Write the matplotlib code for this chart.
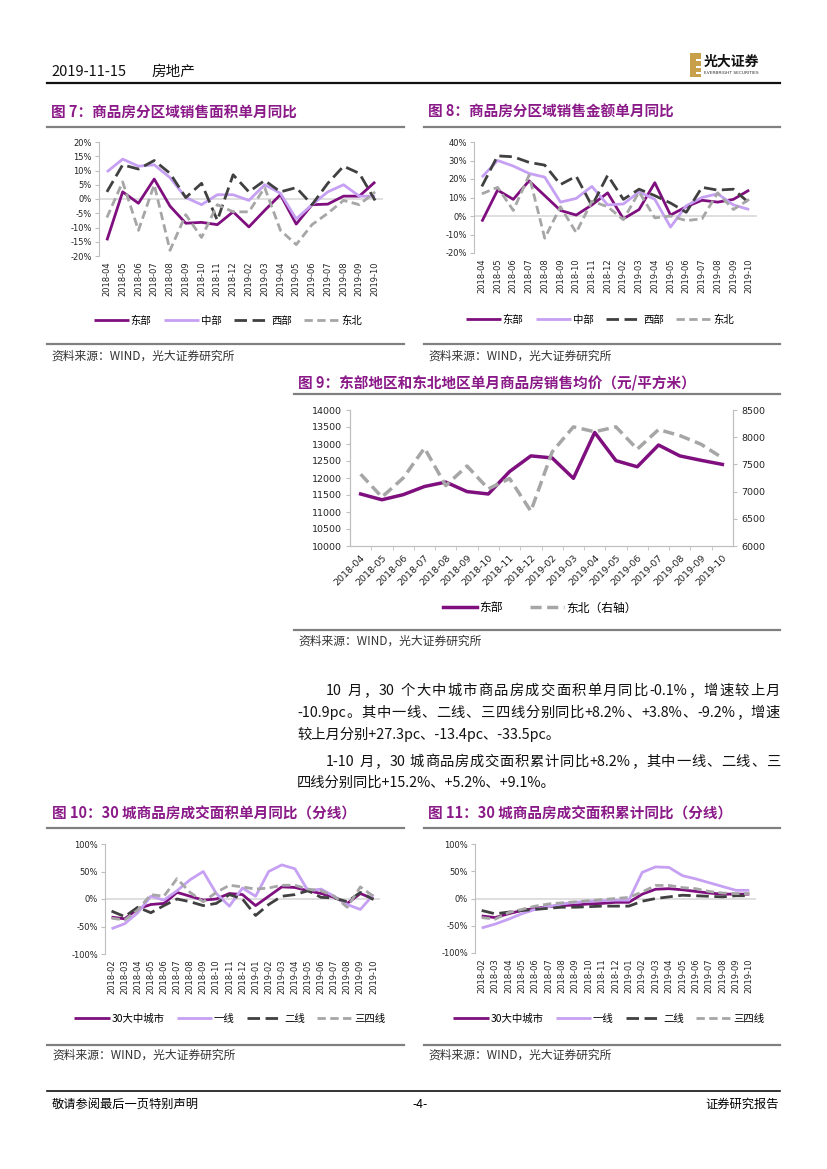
import re
import matplotlib
matplotlib.use("Agg")
import matplotlib.pyplot as plt
from matplotlib.patches import Rectangle
from matplotlib.lines import Line2D
from matplotlib.ticker import FuncFormatter, MultipleLocator, FixedLocator

plt.rcParams['font.family'] = ['DejaVu Sans', 'Noto Sans CJK SC']
CJK = ['Noto Sans CJK SC', 'DejaVu Sans']

W, H = 827, 1169

# ---- data ----
months_a = ['2018-04', '2018-05', '2018-06', '2018-07', '2018-08', '2018-09',
            '2018-10', '2018-11', '2018-12', '2019-02', '2019-03', '2019-04',
            '2019-05', '2019-06', '2019-07', '2019-08', '2019-09', '2019-10']

months_b = ['2018-02', '2018-03', '2018-04', '2018-05', '2018-06', '2018-07',
            '2018-08', '2018-09', '2018-10', '2018-11', '2018-12', '2019-01',
            '2019-02', '2019-03', '2019-04', '2019-05', '2019-06', '2019-07',
            '2019-08', '2019-09', '2019-10']

regions = ['东部', '中部', '西部', '东北']

# fig 7: area yoy (%)
area_east = [-14.5, 2.5, -1.5, 7, -2.5, -8.5, -8.2, -9, -4.5, -9.8, -4, 1.5, -8.8, -2, -1.8, 1, 1, 6]
area_central = [9.5, 14, 11.5, 12, 7.5, 0.5, -2, 1.5, 1.5, -0.5, 5, 2, -7, -2, 2.5, 5, 1, 1]
area_west = [2.5, 12, 10.5, 13.5, 9, 0.5, 5.5, -7.5, 8.5, 2.5, 6.5, 2.5, 4, -2, 5.5, 11.5, 9, -0.5]
area_ne = [-6.5, 6, -11, 5, -18, -5.5, -13.5, -2, -4.5, -4.5, 4, -11, -16, -9, -5, -0.5, -2, 2.5]

# fig 8: sales amount yoy (%)
amt_east = [-3, 14, 9, 19, 11, 3, 0.5, 6, 12.5, -1.5, 3.5, 18, 0.5, 5, 8.5, 7.5, 9, 14]
amt_central = [21, 30, 27, 23, 21, 7.5, 9.5, 16, 6, 6.5, 13, 9, -6, 5.5, 10, 12, 6, 3.5]
amt_west = [16, 32.5, 32, 29, 27.5, 17, 21.5, 5.5, 22, 9, 14.5, 11, 7, 2, 15.5, 14, 14.5, 7]
amt_ne = [12, 15.5, 3, 22, -12, 5, -9, 8, 5, -2, 13, -1, 0, -2.5, -1.5, 12.5, 3.5, 9]

# fig 9: average price (yuan / m2)
price_east = [11530, 11360, 11510, 11750, 11880, 11600, 11530, 12190, 12650, 12590,
              11990, 13340, 12510, 12330, 12970, 12650, 12520, 12400]
price_ne = [7320, 6900, 7250, 7800, 7110, 7470, 7050, 7240, 6640, 7730,
            8190, 8100, 8190, 7780, 8140, 8030, 7870, 7620]

tiers = ['30大中城市', '一线', '二线', '三四线']

# fig 10: 30 cities monthly yoy (%)
mon_all = [-33, -36, -18, -10, -8, 12, 5, -2, 0, 10, 8, -12, 5, 22, 21, 15, 10, 3, -8, 10, 0]
mon_t1 = [-54, -45, -25, 5, -2, 15, 35, 50, 10, -13, 20, 5, 50, 62, 55, 15, 18, 5, -10, -19, 8]
mon_t2 = [-22, -32, -15, -25, -12, 0, -5, -12, -8, 8, 0, -30, -10, 5, 8, 15, 3, 2, -5, 12, -1]
mon_t34 = [-35, -38, -20, 8, 5, 37, 12, -5, 12, 25, 22, 18, 20, 25, 25, 18, 15, 5, -15, 22, 5]

# fig 11: 30 cities cumulative yoy (%)
cum_all = [-32, -35, -28, -22, -18, -15, -13, -12, -10, -9, -7, -7, 8, 17, 18, 16, 13, 10, 8, 8, 8]
cum_t1 = [-54, -47, -38, -28, -20, -15, -10, -7, -5, -4, -3, -3, 48, 58, 57, 42, 36, 29, 22, 15, 15]
cum_t2 = [-22, -28, -25, -22, -20, -18, -16, -16, -15, -14, -14, -14, -5, 0, 3, 6, 5, 4, 3, 5, 5]
cum_t34 = [-35, -38, -26, -20, -14, -10, -8, -6, -4, -2, 0, 2, 12, 24, 24, 20, 18, 13, 10, 9, 9]

PURPLE = '#7F0F7E'
LAVENDER = '#C6A0F2'
DGRAY = '#404040'
LGRAY = '#A6A6A6'
TITLE = '#8B1A89'
AXGRAY = '#BFBFBF'

styles = [
    dict(color=PURPLE, lw=2.0),
    dict(color=LAVENDER, lw=2.0),
    dict(color=DGRAY, lw=2.0, dashes=(4.5, 2.0)),
    dict(color=LGRAY, lw=2.0, dashes=(3.0, 1.6)),
]


def fx(x):
    return x / W


def fy(y):
    return 1 - y / H


def add_ax(fig, left, top, right, bottom):
    return fig.add_axes([fx(left), fy(bottom), (right - left) / W, (bottom - top) / H])


def hline(fig, x0, x1, y, color='#808080', lw=1.6):
    fig.add_artist(Line2D([fx(x0), fx(x1)], [fy(y), fy(y)], color=color, lw=lw))


def block_frame(fig, x0, x1, title, title_y, line_y, bottom_y, source_y, tx):
    fig.text(fx(tx), fy(title_y), title, family=CJK, fontsize=10.5, fontweight='bold',
             color=TITLE, va='center', ha='left')
    hline(fig, x0, x1, line_y)
    hline(fig, x0, x1, bottom_y)
    fig.text(fx(tx), fy(source_y), '资料来源：WIND，光大证券研究所', family=CJK,
             fontsize=8.5, color='#333333', va='center', ha='left')


def yoy_chart(fig, box, labels, series, names, ylim, step, leg_xy, tick_fs=6, leg_fs=7.5,
              pct_fmt='{:.0f}%'):
    ax = add_ax(fig, *box)
    x = list(range(len(labels)))
    for vals, st, nm in zip(series, styles, names):
        ax.plot(x, vals, label=nm, solid_capstyle='butt', dash_capstyle='butt', **st)
    ax.set_xlim(-0.5, len(labels) - 0.5)
    ax.set_ylim(*ylim)
    ax.axhline(0, color='#D9D9D9', lw=1.2, zorder=0)
    for s in ['top', 'right', 'bottom']:
        ax.spines[s].set_visible(False)
    ax.spines['left'].set_color(AXGRAY)
    ax.yaxis.set_major_locator(MultipleLocator(step))
    ax.yaxis.set_major_formatter(FuncFormatter(lambda v, p: pct_fmt.format(v)))
    ax.tick_params(axis='y', labelsize=tick_fs, length=3, color=AXGRAY, pad=2, labelcolor='#222222')
    ax.set_xticks(x)
    ax.set_xticklabels(labels, rotation=90, fontsize=tick_fs, color='#222222')
    ax.tick_params(axis='x', length=0, pad=4)
    ax.patch.set_alpha(0)
    ax.legend(loc='center', bbox_to_anchor=(fx(leg_xy[0]), fy(leg_xy[1])),
              bbox_transform=fig.transFigure, ncol=4, frameon=False,
              handlelength=3.4, handletextpad=0.15, columnspacing=1.2,
              prop={'family': CJK, 'size': leg_fs})
    return ax


def justified_line(fig, renderer, s, x0, x1, y, fs):
    # split into CJK chars and latin runs, spread the extra room between them
    tokens = re.findall(r'[A-Za-z0-9.+\-%]+|\s+|.', s)
    widths = []
    for tok in tokens:
        t = fig.text(0, 0, tok, family=CJK, fontsize=fs)
        widths.append(t.get_window_extent(renderer).width)
        t.remove()
    gap = (x1 - x0 - sum(widths)) / max(len(tokens) - 1, 1)
    xp = x0
    for tok, w in zip(tokens, widths):
        if not tok.isspace():
            fig.text(fx(xp), fy(y), tok, family=CJK, fontsize=fs, va='center', ha='left',
                     color='#111111')
        xp += w + gap


fig = plt.figure(figsize=(W / 100, H / 100), dpi=100)
renderer = fig.canvas.get_renderer()

# ---- header ----
fig.text(fx(51), fy(72), '2019-11-15', family=CJK, fontsize=10.5, va='center', ha='left', color='#111111')
fig.text(fx(152), fy(72), '房地产', family=CJK, fontsize=10.5, va='center', ha='left', color='#111111')
hline(fig, 47, 780, 83, color='#111111', lw=1.6)
fig.add_artist(Rectangle((fx(690), fy(77)), 11 / W, 24 / H, transform=fig.transFigure,
                         facecolor='#C9A04A', edgecolor='none'))
for yy in (59, 66, 72):
    fig.add_artist(Rectangle((fx(696), fy(yy + 1.5)), 5 / W, 1.8 / H, transform=fig.transFigure,
                             facecolor='white', edgecolor='none'))
fig.text(fx(704), fy(62), '光大证券', family=CJK, fontsize=10, fontweight='bold', va='center',
         ha='left', color='#111111')
fig.text(fx(704), fy(73), 'EVERBRIGHT SECURITIES', fontsize=3.2, va='center', ha='left', color='#333333')

# ---- fig 7 ----
block_frame(fig, 47, 404, '图 7：商品房分区域销售面积单月同比', 112, 127, 344, 356, 51)
yoy_chart(fig, (99, 142, 383, 256), months_a,
          [area_east, area_central, area_west, area_ne], regions,
          (-20, 20), 5, (228, 321))

# ---- fig 8 ----
block_frame(fig, 424, 780, '图 8：商品房分区域销售金额单月同比', 112, 127, 344, 356, 428)
yoy_chart(fig, (474, 142, 757, 253), months_a,
          [amt_east, amt_central, amt_west, amt_ne], regions,
          (-20, 40), 10, (600, 320))

# ---- fig 9 ----
block_frame(fig, 294, 780, '图 9：东部地区和东北地区单月商品房销售均价（元/平方米）', 382, 394, 630, 641, 298)
ax9 = add_ax(fig, 350, 410, 733, 546)
x9 = list(range(len(months_a)))
l1, = ax9.plot(x9, price_east, color=PURPLE, lw=2.5, label='东部')
ax9.set_ylim(10000, 14000)
ax9.set_xlim(-0.5, len(months_a) - 0.5)
ax9.yaxis.set_major_locator(MultipleLocator(500))
ax9b = ax9.twinx()
l2, = ax9b.plot(x9, price_ne, color=LGRAY, lw=2.5, dashes=(3.2, 1.6), label='东北（右轴）')
ax9b.set_ylim(6000, 8500)
ax9b.yaxis.set_major_locator(MultipleLocator(500))
for a in (ax9, ax9b):
    a.spines['top'].set_visible(False)
    for s in ('left', 'right', 'bottom'):
        a.spines[s].set_color(AXGRAY)
    a.tick_params(axis='y', labelsize=6.8, length=3, color=AXGRAY, pad=3, labelcolor='#222222')
ax9.set_xticks(x9)
ax9.set_xticklabels(months_a, rotation=45, ha='right', rotation_mode='anchor', fontsize=6.8,
                    color='#222222')
ax9.tick_params(axis='x', length=0, pad=5)
ax9.xaxis.set_minor_locator(FixedLocator([i + 0.5 for i in x9[:-1]]))
ax9.tick_params(axis='x', which='minor', length=3, color=AXGRAY)
ax9.legend(handles=[l1, l2], loc='center', bbox_to_anchor=(fx(540), fy(608)),
           bbox_transform=fig.transFigure, ncol=2, frameon=False, handlelength=2.9,
           handletextpad=0.2, columnspacing=2.3, prop={'family': CJK, 'size': 8.5})

# ---- text ----
PARA_FS = 10.3
justified_line(fig, renderer, '10 月，30 个大中城市商品房成交面积单月同比-0.1%，增速较上月',
               326, 780, 691, PARA_FS)
justified_line(fig, renderer, '-10.9pc。其中一线、二线、三四线分别同比+8.2%、+3.8%、-9.2%，增速',
               297, 780, 713, PARA_FS)
fig.text(fx(297), fy(734), '较上月分别+27.3pc、-13.4pc、-33.5pc。', family=CJK, fontsize=PARA_FS,
         va='center', ha='left', color='#111111')
justified_line(fig, renderer, '1-10 月，30 城商品房成交面积累计同比+8.2%，其中一线、二线、三',
               326, 780, 762, PARA_FS)
fig.text(fx(297), fy(783), '四线分别同比+15.2%、+5.2%、+9.1%。', family=CJK, fontsize=PARA_FS,
         va='center', ha='left', color='#111111')

# ---- fig 10 ----
block_frame(fig, 47, 404, '图 10：30 城商品房成交面积单月同比（分线）', 814, 828, 1045, 1055, 52)
yoy_chart(fig, (105, 844, 380, 954), months_b,
          [mon_all, mon_t1, mon_t2, mon_t34], tiers,
          (-100, 100), 50, (230, 1019))

# ---- fig 11 ----
block_frame(fig, 424, 780, '图 11：30 城商品房成交面积累计同比（分线）', 814, 828, 1045, 1055, 428)
yoy_chart(fig, (475, 844, 756, 953), months_b,
          [cum_all, cum_t1, cum_t2, cum_t34], tiers,
          (-100, 100), 50, (609, 1019))

# ---- footer ----
hline(fig, 47, 780, 1091, color='#111111', lw=1.2)
fig.text(fx(52), fy(1104), '敬请参阅最后一页特别声明', family=CJK, fontsize=8.8, va='center', ha='left')
fig.text(fx(420), fy(1104), '-4-', family=CJK, fontsize=8.8, va='center', ha='center')
fig.text(fx(779), fy(1104), '证券研究报告', family=CJK, fontsize=8.8, va='center', ha='right')

fig.savefig('out.png', dpi=100)
